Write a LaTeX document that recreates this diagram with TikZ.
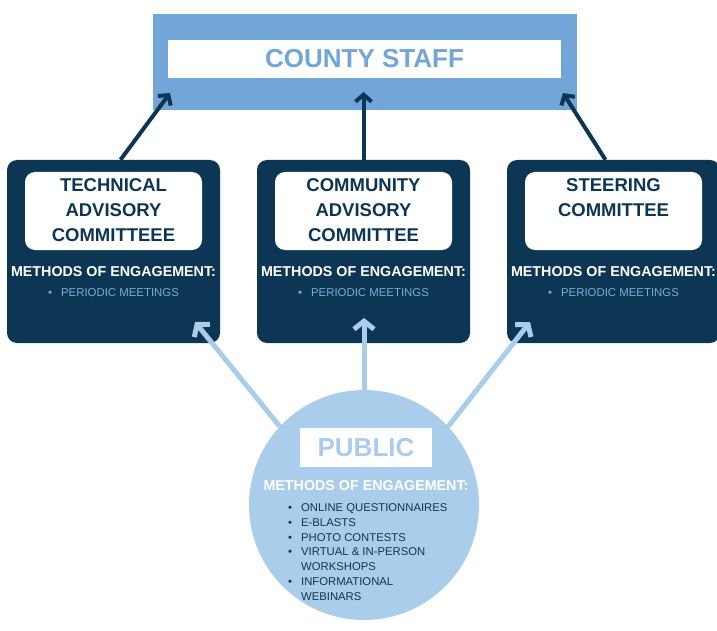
\documentclass[tikz,border=0pt]{standalone}
\usepackage{fontspec}
\setmainfont{Liberation Sans}
\usetikzlibrary{positioning}
\usetikzlibrary{arrows.meta}
\definecolor{navy}{HTML}{0D3655}
\definecolor{midblue}{HTML}{72A5D8}
\definecolor{paleblue}{HTML}{AACDEB}
\definecolor{meetblue}{HTML}{7FAADA}
\tikzstyle{staff} = [rectangle, fill=midblue, minimum width=424pt, minimum height=96pt]
\tikzstyle{staffin} = [rectangle, fill=white, minimum width=393pt, minimum height=38pt, text=midblue, font=\fontsize{26}{30}\selectfont\bfseries]
\tikzstyle{group} = [rectangle, fill=navy, rounded corners=10pt, minimum width=213pt, minimum height=183pt]
\tikzstyle{card} = [rectangle, fill=white, rounded corners=10pt, minimum width=177pt, minimum height=78pt]
\tikzstyle{title} = [inner sep=0pt, align=center, text=navy, font=\fontsize{18.5}{25}\selectfont\bfseries]
\tikzstyle{methods} = [inner sep=0pt, text=white, font=\fontsize{14.3}{17}\selectfont\bfseries]
\tikzstyle{meet} = [inner sep=0pt, text=meetblue, font=\fontsize{11.4}{14}\selectfont]
\tikzstyle{list} = [inner sep=0pt, text=navy, font=\fontsize{11.3}{14.8}\selectfont]
\tikzstyle{up} = [draw=navy, line width=4pt, -{Straight Barb[length=7pt,width=16pt]}]
\tikzstyle{feed} = [draw=paleblue, line width=5pt, -{Straight Barb[length=8pt,width=20pt]}]

\begin{document}
\begin{tikzpicture}[x=1pt, y=-1pt]
    \useasboundingbox (0,0) rectangle (717,631);
    % county staff
    \node[staff] (STAFF) at (365,62) {};
    \node[staffin] (STAFFIN) at (364.5,59) {COUNTY STAFF};
    % committees
    \node[group] (TAC) at (113.5,251.5) {};
    \node[group] (CAC) at (363.5,251.5) {};
    \node[group] (SC) at (613.5,251.5) {};
    \node[card, below=12pt of TAC.north] (TACC) {};
    \node[card, below=12pt of CAC.north] (CACC) {};
    \node[card, below=12pt of SC.north] (SCC) {};
    \node[title, below=7pt of TACC.north] (TACT) {TECHNICAL\\ADVISORY\\COMMITTEEE};
    \node[title, below=7pt of CACC.north] (CACT) {COMMUNITY\\ADVISORY\\COMMITTEE};
    \node[title, below=7pt of SCC.north] (SCT) {STEERING\\COMMITTEE};
    \node[methods, below=16pt of TACC] (TACM) {METHODS OF ENGAGEMENT:};
    \node[methods, below=16pt of CACC] (CACM) {METHODS OF ENGAGEMENT:};
    \node[methods, below=16pt of SCC] (SCM) {METHODS OF ENGAGEMENT:};
    \node[meet, below=12pt of TACM] (TACP) {\textbullet\hspace{9pt}PERIODIC MEETINGS};
    \node[meet, below=12pt of CACM] (CACP) {\textbullet\hspace{9pt}PERIODIC MEETINGS};
    \node[meet, below=12pt of SCM] (SCP) {\textbullet\hspace{9pt}PERIODIC MEETINGS};
    % public
    \node[circle, fill=paleblue, minimum size=230pt, inner sep=0pt] (PUB) at (364,505) {};
    \node[rectangle, fill=white, minimum width=132pt, minimum height=39pt, text=paleblue, font=\fontsize{26}{30}\selectfont\bfseries] (PUBT) at (366,447.5) {PUBLIC};
    \node[methods, below=13pt of PUBT] (PUBM) {METHODS OF ENGAGEMENT:};
    \node[list, anchor=north west] (PUBL) at (288,501) {%
        \begin{tabular}[t]{@{}l@{\hspace{9pt}}l@{}}
        \textbullet & ONLINE QUESTIONNAIRES\\
        \textbullet & E-BLASTS\\
        \textbullet & PHOTO CONTESTS\\
        \textbullet & VIRTUAL \& IN-PERSON\\
                    & WORKSHOPS\\
        \textbullet & INFORMATIONAL\\
                    & WEBINARS
        \end{tabular}};
    % arrow ends
    \coordinate (TACtop) at (170,93);
    \coordinate (CACtop) at (363.5,92);
    \coordinate (SCtop) at (563,93);
    \coordinate (TACin) at (195,322);
    \coordinate (CACin) at (364,318);
    \coordinate (SCin) at (530,322);
    \path[up] ([xshift=7pt]TAC.north) -- (TACtop);
    \path[up] (CAC.north) -- (CACtop);
    \path[up] ([xshift=-8pt]SC.north) -- (SCtop);
    \path[feed] (PUB.137) -- (TACin);
    \path[feed] (PUB.north) -- (CACin);
    \path[feed] (PUB.43) -- (SCin);
\end{tikzpicture}
\end{document}
